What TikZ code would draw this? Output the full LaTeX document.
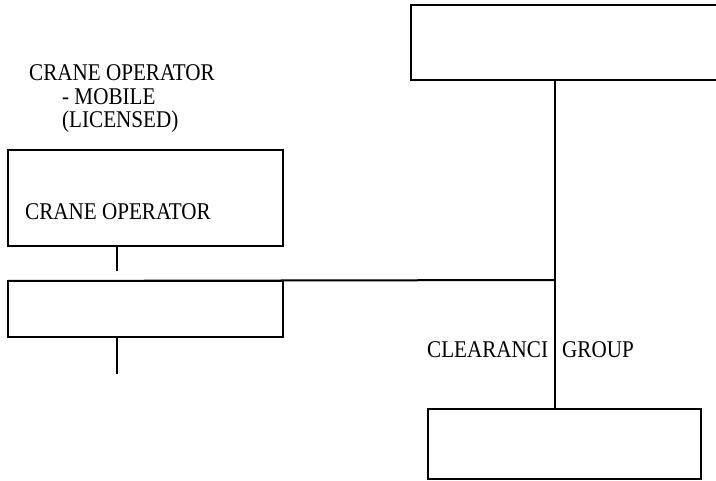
\documentclass[tikz,border=0pt]{standalone}
\usepackage{fontspec}
\setmainfont{Liberation Serif}
\newfontfamily\chartfont[FakeStretch=0.88]{Liberation Serif}
\usetikzlibrary{positioning}

\begin{document}
\begin{tikzpicture}[x=1pt, y=-1pt,
  unit/.style={draw, line width=2pt, inner sep=0pt, outer sep=0pt, anchor=north west},
  lbl/.style={font=\chartfont\fontsize{24}{28}\selectfont, inner sep=0pt, anchor=base west},
  link/.style={line width=2pt}]
\clip (0,0) rectangle (716,481);
% Boxes
\node[unit, minimum width=340, minimum height=75] (head) at (411,5) {};
\node[unit, minimum width=275, minimum height=96] (crane) at (8,150) {};
\node[unit, minimum width=275, minimum height=56] (post) at (8,281) {};
\node[unit, minimum width=273, minimum height=70] (foot) at (428,409) {};
% Labels
\node[lbl] (role1) at (29,81) {CRANE OPERATOR};
\node[lbl] (role2) at (62,105) {- MOBILE};
\node[lbl] (role3) at (62,128) {(LICENSED)};
\node[lbl] (cranelbl) at (25,220) {CRANE OPERATOR};
\node[lbl] (clear) at (427,358) {CLEARANCI};
\node[lbl] (group) at (562,358) {GROUP};
% Lines
\coordinate (jn) at (555,280);
\coordinate (tap) at (117,271);
\coordinate (tail) at (117,374);
\draw[link] (head.south -| jn) -- (jn |- foot.north);
\draw[link] (post.north west) -- (jn);
\draw[link] (crane.south -| tap) -- (tap);
\draw[link] (post.south -| tail) -- (tail);
\end{tikzpicture}
\end{document}
